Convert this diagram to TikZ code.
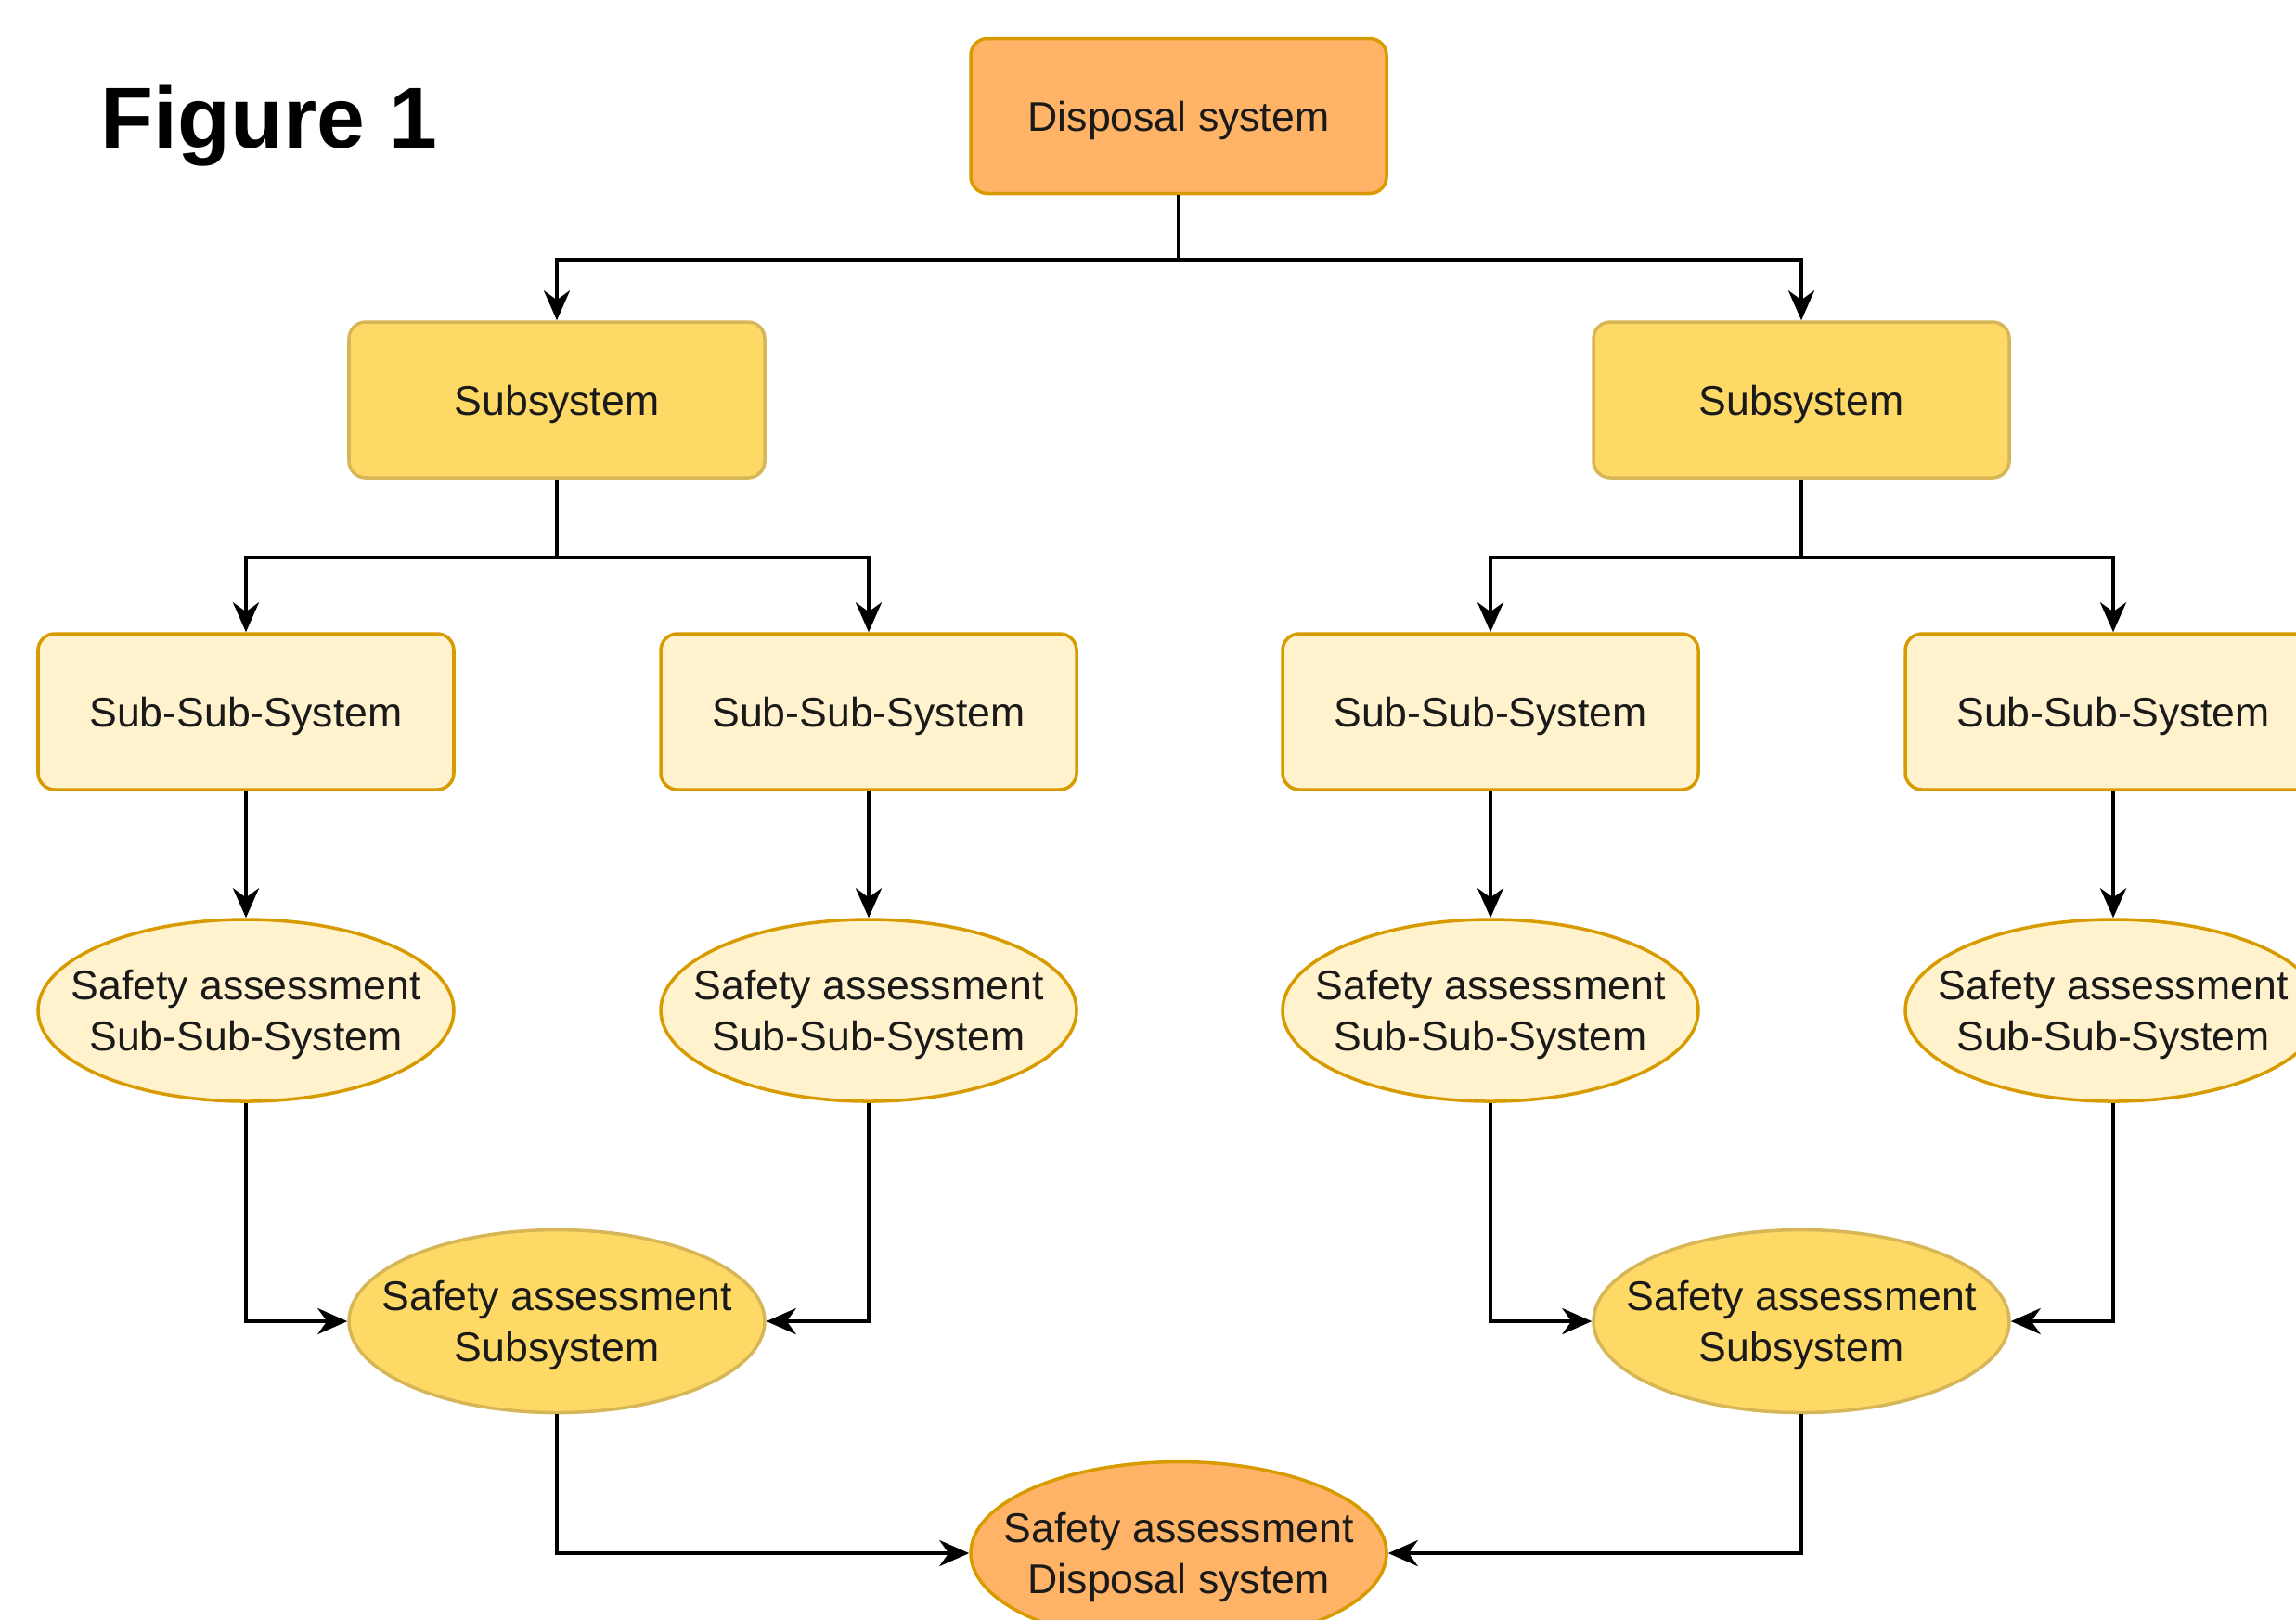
\documentclass[tikz,border=0pt]{standalone}
\usepackage{fontspec}
\setmainfont{Liberation Sans}
\usepackage{tikz}
\usetikzlibrary{shapes,arrows.meta,positioning}

\definecolor{dispfill}{HTML}{FFB366}
\definecolor{displine}{HTML}{D79B00}
\definecolor{subfill}{HTML}{FFD966}
\definecolor{subline}{HTML}{D6B656}
\definecolor{ssfill}{HTML}{FFF2CC}
\definecolor{ssline}{HTML}{D79B00}
\definecolor{txt}{HTML}{1A1A1A}

\newcommand{\salabel}[1]{\makebox[0pt]{\raisebox{-1.4pt}[\height][\depth]{\begin{tabular}{@{}c@{}}Safety assessment\\#1\end{tabular}}}}

\begin{document}
\begin{tikzpicture}[
  box/.style={draw, rectangle, rounded corners=0.18cm, line width=1pt, minimum width=4.48cm, minimum height=1.68cm, text height=11.9pt, text depth=2.7pt, text=txt, font=\fontsize{12.7}{15.6}\selectfont},
  ell/.style={draw, ellipse, line width=1pt, minimum width=4.48cm, minimum height=1.96cm, inner sep=0pt, text=txt, font=\fontsize{12.7}{15.6}\selectfont},
  conn/.style={-{Stealth[length=0.32cm, width=0.28cm, inset=0.1cm]}, line width=1.2pt}]
\useasboundingbox (0,0) rectangle (24.74,-17.45);
\clip (0,0) rectangle (24.74,-17.45);

\node[anchor=base, font=\fontsize{26.5}{30}\selectfont\bfseries, xshift=2.9cm, yshift=-1.59cm] (title) {Figure 1};

\node[box, fill=dispfill, draw=displine, minimum height=1.67cm, xshift=12.7cm, yshift=-1.25cm] (disp) {Disposal system};
%============
\node[box, fill=subfill, draw=subline, xshift=6cm, yshift=-4.31cm] (subL) {Subsystem};
\node[box, fill=subfill, draw=subline, xshift=19.41cm, yshift=-4.31cm] (subR) {Subsystem};
%============
\node[box, fill=ssfill, draw=ssline, xshift=2.65cm, yshift=-7.67cm] (sssA) {Sub-Sub-System};
\node[box, fill=ssfill, draw=ssline, xshift=9.36cm, yshift=-7.67cm] (sssB) {Sub-Sub-System};
\node[box, fill=ssfill, draw=ssline, xshift=16.06cm, yshift=-7.67cm] (sssC) {Sub-Sub-System};
\node[box, fill=ssfill, draw=ssline, xshift=22.77cm, yshift=-7.67cm] (sssD) {Sub-Sub-System};
%============
\node[ell, fill=ssfill, draw=ssline, below of=sssA, node distance=3.22cm] (saA) {\salabel{Sub-Sub-System}};
\node[ell, fill=ssfill, draw=ssline, below of=sssB, node distance=3.22cm] (saB) {\salabel{Sub-Sub-System}};
\node[ell, fill=ssfill, draw=ssline, below of=sssC, node distance=3.22cm] (saC) {\salabel{Sub-Sub-System}};
\node[ell, fill=ssfill, draw=ssline, below of=sssD, node distance=3.22cm] (saD) {\salabel{Sub-Sub-System}};
%============
\node[ell, fill=subfill, draw=subline, minimum height=1.97cm, xshift=6cm, yshift=-14.24cm] (saSubL) {\salabel{Subsystem}};
\node[ell, fill=subfill, draw=subline, minimum height=1.97cm, xshift=19.41cm, yshift=-14.24cm] (saSubR) {\salabel{Subsystem}};
\node[ell, fill=dispfill, draw=displine, minimum height=1.97cm, xshift=12.7cm, yshift=-16.74cm] (saDisp) {\salabel{Disposal system}};
%==========

            \draw[conn] (disp.south) -- ++(0,-0.7) -| (subL.north);
            \draw[conn] (disp.south) -- ++(0,-0.7) -| (subR.north);

            \draw[conn] (subL.south) -- ++(0,-0.84) -| (sssA.north);
            \draw[conn] (subL.south) -- ++(0,-0.84) -| (sssB.north);
            \draw[conn] (subR.south) -- ++(0,-0.84) -| (sssC.north);
            \draw[conn] (subR.south) -- ++(0,-0.84) -| (sssD.north);

            \draw[conn] (sssA) -- (saA);
            \draw[conn] (sssB) -- (saB);
            \draw[conn] (sssC) -- (saC);
            \draw[conn] (sssD) -- (saD);

            \draw[conn] (saA.south) |- (saSubL.west);
            \draw[conn] (saB.south) |- (saSubL.east);
            \draw[conn] (saC.south) |- (saSubR.west);
            \draw[conn] (saD.south) |- (saSubR.east);

            \draw[conn] (saSubL.south) |- (saDisp.west);
            \draw[conn] (saSubR.south) |- (saDisp.east);

\end{tikzpicture}
\end{document}
